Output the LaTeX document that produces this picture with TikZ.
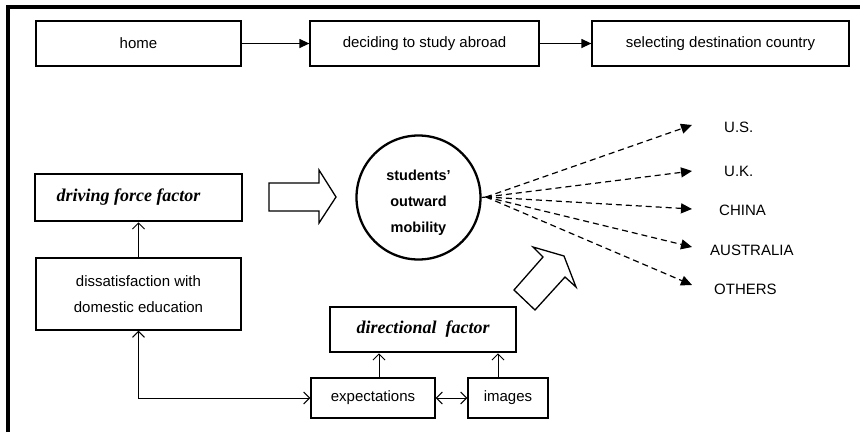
\documentclass[tikz,border=0pt]{standalone}
\usepackage{fontspec}
\setmainfont{Liberation Sans}
\newfontfamily\factorfont{Liberation Serif}
\usepackage{tikz}
\usetikzlibrary{positioning, arrows.meta, calc}

\begin{document}
\begin{tikzpicture}[x=1pt, y=-1pt,
    box/.style={rectangle, draw, line width=1.2pt, align=center, font=\fontsize{15}{26}\selectfont},
    factor/.style={rectangle, draw, line width=2.6pt, font=\factorfont\bfseries\itshape\fontsize{18}{20}\selectfont},
    country/.style={anchor=west, inner sep=0pt, font=\fontsize{15}{18}\selectfont},
    flow/.style={line width=1.2pt, -{Triangle[length=10pt, width=9pt]}},
    open/.style={line width=1pt, -{Straight Barb[length=6pt, width=12pt]}},
    both/.style={line width=1pt, {Straight Barb[length=6pt, width=12pt]}-{Straight Barb[length=6pt, width=12pt]}},
    dest/.style={line width=1.2pt, dash pattern=on 6pt off 4pt, -{Triangle[length=11pt, width=10pt]}},
    block/.style={draw, line width=1.3pt, line join=miter, fill=white}]
    \useasboundingbox (0,0) rectangle (860,432);
    \draw[line width=4pt] (8,432) -- (8,6.5) -- (860,6.5);

    \node (home) [box, minimum width=205pt, minimum height=45pt] at (138.5,43.5) {home};
    \node (decide) [box, minimum width=229pt, minimum height=45pt] at (424.5,43.5) {deciding to study abroad};
    \node (select) [box, minimum width=257pt, minimum height=45pt] at (720.5,43.5) {selecting destination country};

    \node (drive) [factor, minimum width=207pt, minimum height=47pt] at (138.5,197.5) {driving force factor\hspace*{20pt}};
    \node (dissat) [box, minimum width=205pt, minimum height=72pt] at (138.5,294) {dissatisfaction with\\domestic education};
    \node (mobility) [circle, draw, line width=2.3pt, minimum size=124pt, align=center, font=\bfseries\fontsize{14.5}{26}\selectfont] at (418.5,197.5) {\rule{0pt}{20pt}students'\\outward\\mobility};

    \node (direct) [factor, minimum width=186pt, minimum height=45pt] at (423,329.5) {directional\ \ factor};
    \node (expect) [box, minimum width=124pt, minimum height=40pt] at (373,398) {expectations};
    \node (images) [box, minimum width=80pt, minimum height=40pt] at (508,398) {images};

    \node (us) [country] at (724,127) {U.S.};
    \node (uk) [country] at (724,171) {U.K.};
    \node (china) [country] at (719,210) {CHINA};
    \node (aus) [country] at (710,250) {AUSTRALIA};
    \node (others) [country] at (714,289) {OTHERS};

    \coordinate (tick) at (486,197);
    \coordinate (ustip) at (692,125);
    \coordinate (uktip) at (692,171);
    \coordinate (chinatip) at (692,209);
    \coordinate (austip) at (692,247);
    \coordinate (otherstip) at (692,285);

    \draw[flow] (home) -- (decide);
    \draw[flow] (decide) -- (select);

    \draw[block] (269,183) -- (319,183) -- (319,170) -- (336,197) -- (319,223) -- (319,211) -- (269,211) -- cycle;
    \draw[block] (514,290) -- (543,257) -- (533,247) -- (564,256) -- (576,287) -- (565,277) -- (535,310) -- cycle;

    \draw[open] (dissat) -- (drive);
    \draw[both] (dissat.south) |- (expect.west);
    \draw[open] ([xshift=6pt]expect.north) -- ([xshift=6pt]expect.north |- direct.south);
    \draw[open] ([xshift=-10pt]images.north) -- ([xshift=-10pt]images.north |- direct.south);
    \draw[both] (expect) -- (images);

    \draw[line width=1.2pt] (mobility.east) -- (tick);
    \draw[dest] (tick) -- (ustip);
    \draw[dest] (tick) -- (uktip);
    \draw[dest] (tick) -- (chinatip);
    \draw[dest] (tick) -- (austip);
    \draw[dest] (tick) -- (otherstip);
\end{tikzpicture}
\end{document}
